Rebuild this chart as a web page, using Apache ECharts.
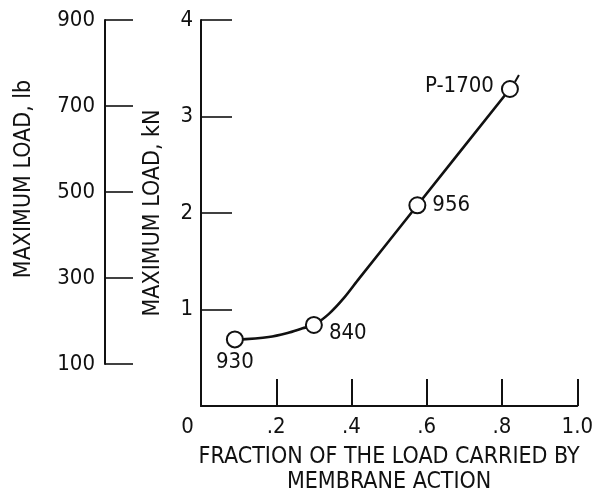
<!DOCTYPE html>
<html><head><meta charset="utf-8">
<script src="https://cdn.jsdelivr.net/npm/echarts@6/dist/echarts.min.js"></script>
<style>html,body{margin:0;padding:0;background:#fff}#c{width:596px;height:501px}</style>
</head><body><div id="c"></div>
<script>
// ---- data ----
const specimenNames = ['930', '840', '956', 'P-1700'];
const fractionValues = [0.09, 0.30, 0.575, 0.821];
const loadKN = [0.69, 0.84, 2.08, 3.285];
// faired curve
const curveFraction = [0.09, 0.18, 0.23, 0.27, 0.30, 0.34, 0.38, 0.42, 0.575, 0.821];
const curveLoadKN   = [0.685, 0.715, 0.757, 0.805, 0.84, 0.955, 1.12, 1.32, 2.08, 3.285];
const xTickLabels = ['0', '.2', '.4', '.6', '.8', '1.0'];
const kNTickLabels = ['0', '1', '2', '3', '4'];
const lbTickLabels = ['100', '300', '500', '700', '900'];
const flaggedSpecimen = ['P-1700'];

// ---- styling ----
const FONT = "'Liberation Sans Narrow','DejaVu Sans Condensed','Liberation Sans',sans-serif";
const INK = '#111';
const labelPlacement = {
  '930':    { position: 'bottom', distance: 3, offset: [0, 0] },
  '840':    { position: 'right',  distance: 6, offset: [0, 8] },
  '956':    { position: 'right',  distance: 6, offset: [0, 0] },
  'P-1700': { position: 'left',   distance: 7, offset: [0, -3] }
};
const txt = { fontFamily: FONT, fontSize: 22, color: INK };

const pointData = specimenNames.map((n, i) => ({
  value: [fractionValues[i], loadKN[i]],
  name: n,
  label: Object.assign({ show: true, formatter: n }, txt, labelPlacement[n])
}));
const curveData = curveFraction.map((x, i) => [x, curveLoadKN[i]]);
const flagData = flaggedSpecimen.map(n => {
  const i = specimenNames.indexOf(n);
  return [fractionValues[i], loadKN[i]];
});

const chart = echarts.init(document.getElementById('c'), null, { renderer: 'canvas' });
chart.setOption({
  backgroundColor: '#fff',
  animation: false,
  grid: [
    { left: 201, top: 20, width: 379, height: 386 },
    { left: 105, top: 20, width: 10, height: 344 }
  ],
  xAxis: [{
    gridIndex: 0, type: 'value', min: 0, max: 1, interval: 0.2,
    name: 'FRACTION OF THE LOAD CARRIED BY\nMEMBRANE ACTION',
    nameLocation: 'middle', nameGap: 39,
    nameTextStyle: Object.assign({}, txt, { fontSize: 23, lineHeight: 25 }),
    axisLine: { show: true, lineStyle: { color: INK, width: 2 } },
    axisTick: { show: true, inside: true, length: 27, lineStyle: { color: INK, width: 2 } },
    axisLabel: Object.assign({}, txt, {
      margin: 10,
      formatter: v => {
        const s = xTickLabels[Math.round(v * 5)];
        return v === 0 ? '{z|' + s + '}' : s;
      },
      rich: { z: { fontFamily: FONT, fontSize: 22, color: INK, padding: [0, 27, 0, 0] } }
    }),
    splitLine: { show: false }
  }, {
    gridIndex: 1, type: 'value', min: 0, max: 1, show: false
  }],
  yAxis: [{
    gridIndex: 0, type: 'value', min: 0, max: 4, interval: 1,
    name: 'MAXIMUM LOAD, kN', nameLocation: 'middle', nameGap: 36, nameRotate: 90,
    nameTextStyle: Object.assign({}, txt, { fontSize: 23 }),
    axisLine: { show: true, lineStyle: { color: INK, width: 2 } },
    axisTick: { show: true, inside: true, length: 31, lineStyle: { color: INK, width: 1.6 } },
    axisLabel: Object.assign({}, txt, {
      margin: 8, showMinLabel: false,
      formatter: v => kNTickLabels[Math.round(v)]
    }),
    splitLine: { show: false }
  }, {
    gridIndex: 1, type: 'value', min: 100, max: 900, interval: 200,
    name: 'MAXIMUM LOAD, lb', nameLocation: 'middle', nameGap: 69, nameRotate: 90,
    nameTextStyle: Object.assign({}, txt, { fontSize: 23, padding: [0, 0, 0, 26] }),
    axisLine: { show: true, lineStyle: { color: INK, width: 2 } },
    axisTick: { show: true, inside: true, length: 28, lineStyle: { color: INK, width: 1.6 } },
    axisLabel: Object.assign({}, txt, {
      margin: 10,
      formatter: v => lbTickLabels[Math.round((v - 100) / 200)]
    }),
    splitLine: { show: false }
  }],
  series: [{
    type: 'line', xAxisIndex: 0, yAxisIndex: 0,
    data: curveData, smooth: 0.3, showSymbol: false, symbol: 'none',
    lineStyle: { color: INK, width: 2.6 }, z: 2, silent: true
  }, {
    type: 'scatter', xAxisIndex: 0, yAxisIndex: 0,
    data: pointData, symbol: 'circle', symbolSize: 16,
    itemStyle: { color: '#fff', borderColor: INK, borderWidth: 2, opacity: 1 },
    label: Object.assign({ show: true }, txt),
    emphasis: { disabled: true },
    z: 4
  }, {
    type: 'custom', xAxisIndex: 0, yAxisIndex: 0,
    data: flagData, z: 5, silent: true,
    renderItem: (params, api) => {
      const p = api.coord([api.value(0), api.value(1)]);
      return {
        type: 'line',
        shape: { x1: p[0] + 5, y1: p[1] - 7, x2: p[0] + 9, y2: p[1] - 14 },
        style: { stroke: INK, lineWidth: 2 }
      };
    }
  }]
});
</script>
</body></html>
